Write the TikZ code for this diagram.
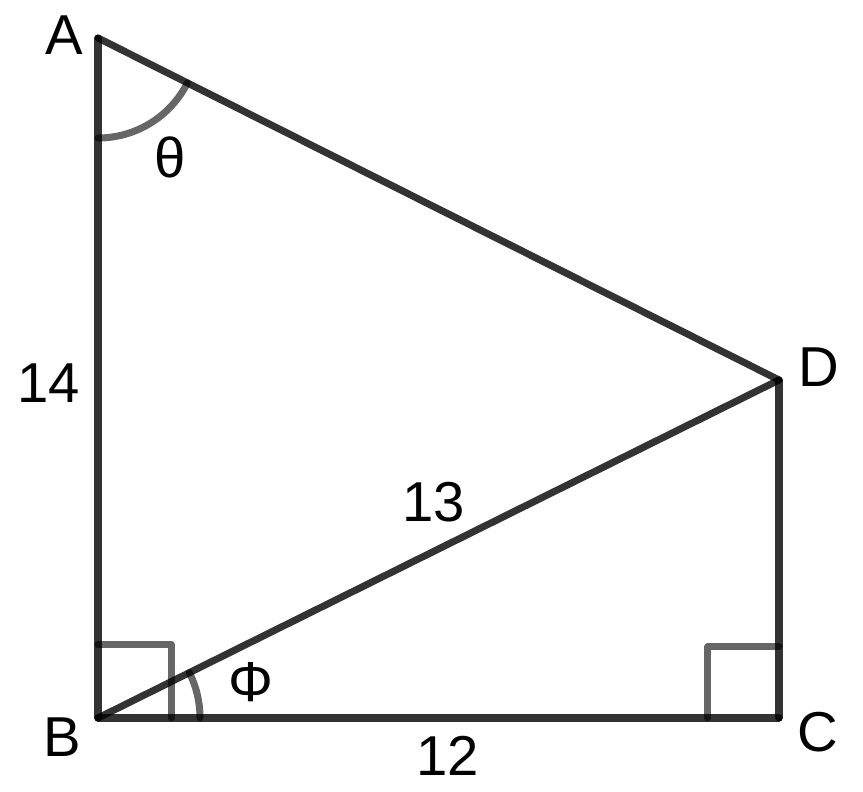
\documentclass[tikz,border=0pt]{standalone}
\usepackage{fontspec}
\setmainfont{Liberation Sans}
\usetikzlibrary{angles,calc}
\tikzset{
  side/.style = {draw, line width=5pt, black, draw opacity=0.8, line cap=round, line join=round},
  anglemark/.style = {draw, line width=5pt, black, draw opacity=0.6, line cap=round, line join=round},
  vlabel/.style = {font=\fontsize{40}{48}\selectfont, inner sep=0pt},
}
\begin{document}
\begin{tikzpicture}[x=0.025cm, y=0.025cm]
\useasboundingbox (0,0) rectangle (863,791);

% vertices
\coordinate (A) at (98,753);
\coordinate (B) at (98,73);
\coordinate (C) at (779,73);
\coordinate (D) at (779,411);

% sides
\draw[side] (A) -- (B);
\draw[side] (B) -- (C);
\draw[side] (C) -- (D);
\draw[side] (D) -- (A);
\draw[side] (B) -- (D);

% angle marks
\pic[anglemark, angle radius=2.5cm] {angle = B--A--D};
\pic[anglemark, angle radius=2.55cm] {angle = C--B--D};
\pic[anglemark, angle radius=1.83cm] {right angle = C--B--A};
\pic[anglemark, angle radius=1.78cm] {right angle = D--C--B};

% labels
\node[vlabel] (labA) at (64.5,756) {A};
\node[vlabel] (labB) at (62,53.5) {B};
\node[vlabel] (labC) at (818,59) {C};
\node[vlabel] (labD) at (818.5,423.5) {D};
\node[vlabel] (len14) at (48.5,408) {14};
\node[vlabel] (len13) at (433.5,288.5) {13};
\node[vlabel] (len12) at (448,35) {12};
\node[vlabel] (theta) at (170.5,633.5) {θ};
\node[vlabel] (phi) at (251,108.5) {Φ};

\end{tikzpicture}
\end{document}
